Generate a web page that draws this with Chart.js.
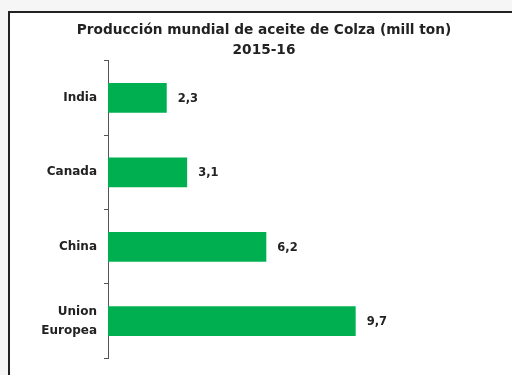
<!DOCTYPE html>
<html>
<head>
<meta charset="utf-8">
<script src="https://cdn.jsdelivr.net/npm/chart.js@4/dist/chart.umd.min.js"></script>
<style>
  html, body { margin: 0; padding: 0; background: #f6f6f6; width: 512px; height: 375px; overflow: hidden; }
  #frame { position: absolute; left: 8px; top: 11px; width: 520px; height: 380px; background: #fff; border: 2px solid #222; box-sizing: border-box; }
  #wrap { position: absolute; left: 0; top: 0; width: 512px; height: 375px; }
</style>
</head>
<body>
<div id="frame"></div>
<div id="wrap"><canvas id="c" width="512" height="375"></canvas></div>
<script>
const categories = ['India', 'Canada', 'China', ['Union', 'Europea']];
const production = [2.3, 3.1, 6.2, 9.7];
const titleLines = ['Producción mundial de aceite de Colza (mill ton)', '2015-16'];
const xMax = 15;

const FONT = '"DejaVu Sans", sans-serif';

// Writes each bar's value (decimal comma) just past its end
const valueLabels = {
  id: 'valueLabels',
  afterDatasetsDraw(chart) {
    const ctx = chart.ctx;
    const meta = chart.getDatasetMeta(0);
    ctx.save();
    ctx.font = 'bold 11.5px ' + FONT;
    ctx.fillStyle = '#222';
    ctx.textAlign = 'left';
    ctx.textBaseline = 'middle';
    meta.data.forEach((bar, i) => {
      const txt = production[i].toFixed(1).replace('.', ',');
      ctx.fillText(txt, bar.x + 11, bar.y + 1);
    });
    ctx.restore();
  }
};

new Chart(document.getElementById('c'), {
  type: 'bar',
  data: {
    labels: categories,
    datasets: [{
      data: production,
      backgroundColor: '#00b050',
      borderWidth: 0,
      barPercentage: 0.8,
      categoryPercentage: 0.5
    }]
  },
  options: {
    indexAxis: 'y',
    responsive: false,
    animation: false,
    layout: { padding: { left: 37, right: 21, top: 21, bottom: 15 } },
    plugins: {
      legend: { display: false },
      tooltip: { enabled: false },
      title: {
        display: true,
        text: titleLines,
        color: '#222',
        font: { family: FONT, size: 13.7, weight: 'bold', lineHeight: 1.45 },
        padding: 0
      }
    },
    scales: {
      x: {
        display: false,
        min: 0,
        max: xMax
      },
      y: {
        afterFit(scale) { scale.width = 71; },
        border: { display: true, color: '#555', width: 1 },
        grid: { drawOnChartArea: false, tickLength: 4, color: '#555' },
        ticks: {
          color: '#222',
          padding: 7,
          font: { family: FONT, size: 12, weight: 'bold', lineHeight: 1.6 }
        }
      }
    }
  },
  plugins: [valueLabels]
});
</script>
</body>
</html>
